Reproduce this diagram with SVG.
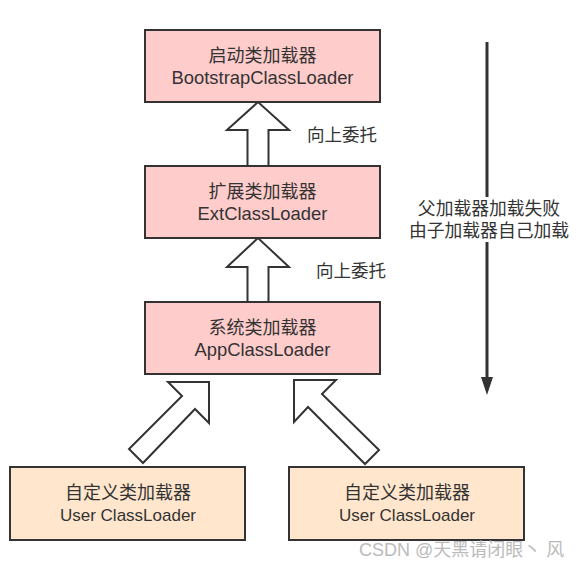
<svg xmlns="http://www.w3.org/2000/svg" width="585" height="567" viewBox="0 0 585 567">
<style>
  .sys rect { fill: #FFCCCC; stroke: #333333; stroke-width: 2; }
  .usr rect { fill: #FFE6CC; stroke: #333333; stroke-width: 2; }
  text { font-family: "Liberation Sans", "Noto Sans CJK SC", sans-serif; fill: #333333; }
  .lbl { font-size: 17.5px; text-anchor: middle; }
  .cn { font-size: 18px; text-anchor: middle; }
  .en { font-size: 18.4px; text-anchor: middle; }
  .enu { font-size: 17px; text-anchor: middle; }
  .blk { fill: #FFFFFF; stroke: #333333; stroke-width: 2; stroke-linejoin: miter; }
  .side { font-size: 17.8px; text-anchor: middle; }
  .wm { font-size: 18px; fill: #BBBBBB; }
</style>
<rect width="585" height="567" fill="#FFFFFF"/>

<g id="connectors">
  <polygon class="blk" points="258,102 227,130 247.5,130 247.5,166 268.5,166 268.5,130 289,130"/>
  <polygon class="blk" points="258,238 227,267 247.5,267 247.5,302 268.5,302 268.5,267 289,267"/>
  <polygon class="blk" points="168,382 209,382 209,423 195,409 143,463 129,449 182,396"/>
  <polygon class="blk" points="294,380 336,380 322,394 379,450 365,464 308,407 294,422"/>
  <text class="lbl" x="342" y="141">向上委托</text>
  <text class="lbl" x="351" y="277">向上委托</text>
  <g id="fallback-arrow">
    <line x1="487" y1="42" x2="487" y2="197" stroke="#333333" stroke-width="3"/>
    <line x1="487" y1="242" x2="487" y2="380" stroke="#333333" stroke-width="3"/>
    <polygon points="481,377 493,377 487,395" fill="#333333"/>
    <text class="side" x="489" y="215">父加载器加载失败</text>
    <text class="side" x="489" y="237">由子加载器自己加载</text>
  </g>
</g>

<g id="bootstrap" class="sys">
  <rect x="145" y="30" width="235" height="72"/>
  <text class="cn" x="262.5" y="62">启动类加载器</text>
  <text class="en" x="262.5" y="84">BootstrapClassLoader</text>
</g>
<g id="ext" class="sys">
  <rect x="145" y="166" width="235" height="72"/>
  <text class="cn" x="262.5" y="198">扩展类加载器</text>
  <text class="en" x="262.5" y="220">ExtClassLoader</text>
</g>
<g id="app" class="sys">
  <rect x="145" y="302" width="235" height="72"/>
  <text class="cn" x="262.5" y="334">系统类加载器</text>
  <text class="en" x="262.5" y="356">AppClassLoader</text>
</g>
<g id="user1" class="usr">
  <rect x="10" y="467" width="235" height="73"/>
  <text class="cn" x="128" y="499">自定义类加载器</text>
  <text class="enu" x="128" y="521">User ClassLoader</text>
</g>
<g id="user2" class="usr">
  <rect x="289" y="467" width="235" height="73"/>
  <text class="cn" x="407" y="499">自定义类加载器</text>
  <text class="enu" x="407" y="521">User ClassLoader</text>
</g>

<text class="wm" x="359" y="556">CSDN @天黑请闭眼丶 风</text>
</svg>
